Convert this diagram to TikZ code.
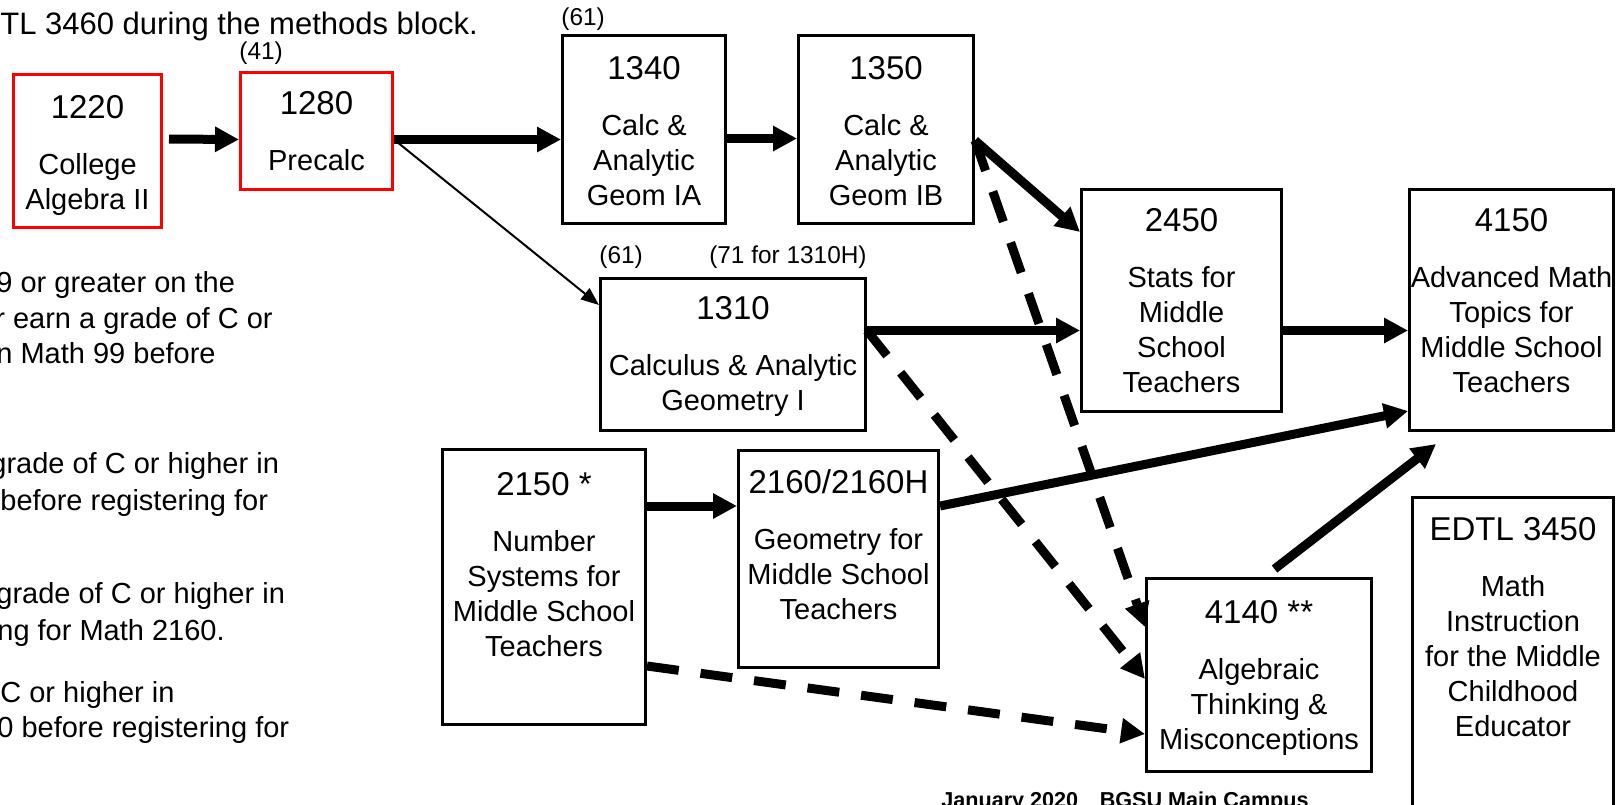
\documentclass[tikz,border=0pt]{standalone}
\usepackage{fontspec}
\setmainfont{Liberation Sans}
\usetikzlibrary{positioning, arrows.meta}

\newcommand{\cnum}[1]{{\fontsize{16.5}{17.5}\selectfont #1}}

\tikzset{
  course/.style={draw, line width=1.5pt, inner sep=0pt, anchor=north west},
  prereq/.style={course, draw=red},
  coursetext/.style={align=center, inner sep=0pt, font=\fontsize{14.5}{17.5}\selectfont},
  seats/.style={inner sep=0pt, font=\fontsize{12.2}{14}\selectfont},
  note/.style={inner sep=0pt, anchor=base west, font=\fontsize{14.5}{17.5}\selectfont},
  req/.style={line width=4.5pt, -{Triangle[length=12pt,width=12pt]}},
  coreq/.style={req, dash pattern=on 16pt off 11pt},
  thinreq/.style={line width=1pt, -{Triangle[length=9pt,width=7pt]}},
}

\begin{document}
\begin{tikzpicture}[x=0.5pt, y=-0.5pt]
	\useasboundingbox (0,0) rectangle (1620,804);

	% notes on the left, cut by the page edge
	\node[note, font=\fontsize{15.5}{18}\selectfont] (methods) at (0,34) {TL 3460 during the methods block.};
	\foreach \nx/\ny/\ntext [count=\i] in {-4/292/9 or greater on the, -5/328/r earn a grade of C or,
	    -4/363/n Math 99 before, -10/473/grade of C or higher in, 0/510/before registering for,
	    -4/603/grade of C or higher in, -3/640/ng for Math 2160., 0/702/C or higher in,
	    -3/737/0 before registering for}
	  \node[note] (note\i) at (\nx,\ny) {\ntext};

	% course boxes
	\node[prereq, minimum width=74pt, minimum height=76.5pt] (n1220) at (12,73) {};
	\node[prereq, minimum width=76pt, minimum height=58.5pt] (n1280) at (239,71) {};
	\node[course, minimum width=81.5pt, minimum height=94pt] (n1340) at (561,34) {};
	\node[course, minimum width=87.5pt, minimum height=94pt] (n1350) at (797,34) {};
	\node[course, minimum width=132.5pt, minimum height=76pt] (n1310) at (599,277) {};
	\node[course, minimum width=100pt, minimum height=111pt] (n2450) at (1080,188) {};
	\node[course, minimum width=102pt, minimum height=120.5pt] (n4150) at (1408,188) {};
	\node[course, minimum width=101.5pt, minimum height=137.5pt] (n2150) at (441,448) {};
	\node[course, minimum width=100pt, minimum height=108.5pt] (n2160) at (737,449) {};
	\node[course, minimum width=112.5pt, minimum height=96.5pt] (n4140) at (1145,577) {};
	\node[course, minimum width=100.5pt, minimum height=167pt] (nEDTL) at (1411,496) {};

	% box texts
	\node[coursetext, below=11pt of n1220.north] (t1220) {\cnum{1220}\\[10.5pt]College\\Algebra II};
	\node[coursetext, below=10pt of n1280.north] (t1280) {\cnum{1280}\\[10.5pt]Precalc};
	\node[coursetext, below=11pt of n1340.north] (t1340) {\cnum{1340}\\[10.5pt]Calc \&\\Analytic\\Geom IA};
	\node[coursetext, below=11pt of n1350.north] (t1350) {\cnum{1350}\\[10.5pt]Calc \&\\Analytic\\Geom IB};
	\node[coursetext, below=9.5pt of n1310.north] (t1310) {\cnum{1310}\\[10.5pt]Calculus \& Analytic\\Geometry I};
	\node[coursetext, below=10pt of n2450.north] (t2450) {\cnum{2450}\\[10.5pt]Stats for\\Middle\\School\\Teachers};
	\node[coursetext, below=10pt of n4150.north] (t4150) {\cnum{4150}\\[10.5pt]Advanced Math\\Topics for\\Middle School\\Teachers};
	\node[coursetext, below=12pt of n2150.north] (t2150) {\cnum{2150 *}\\[10.5pt]Number\\Systems for\\Middle School\\Teachers};
	\node[coursetext, below=10pt of n2160.north] (t2160) {\cnum{2160/2160H}\\[10.5pt]Geometry for\\Middle School\\Teachers};
	\node[coursetext, below=11.5pt of n4140.north] (t4140) {\cnum{4140 **}\\[10.5pt]Algebraic\\Thinking \&\\Misconceptions};
	\node[coursetext, below=10.5pt of nEDTL.north] (tEDTL) {\cnum{EDTL 3450}\\[10.5pt]Math\\Instruction\\for the Middle\\Childhood\\Educator};

	% seat counts
	\node[seats, above right=3pt and 0pt of n1280.north west] (s1280) {(41)};
	\node[seats, above right=1.5pt and 0pt of n1340.north west] (s1340) {(61)};
	\node[seats, above right=4pt and 0pt of n1310.north west] (s1310) {(61)};
	\node[seats, above left=4pt and 0pt of n1310.north east] (s1310H) {(71 for 1310H)};

	% prerequisites
	\draw[req] ([xshift=3pt,yshift=6pt]n1220.east) -- ([yshift=-4.25pt]n1280.west);
	\draw[req] ([yshift=-4.25pt]n1280.east) -- ([yshift=-5pt]n1340.west);
	\draw[thinreq] ([yshift=-4.25pt]n1280.east) -- ([yshift=-14pt]n1310.north west);
	\draw[req] ([yshift=-4.5pt]n1340.east) -- ([yshift=-4.5pt]n1350.west);
	\draw[req] ([yshift=-5.5pt]n1350.east) -- ([yshift=-22pt]n2450.north west);
	\draw[coreq] ([yshift=-5.5pt]n1350.east) -- ([yshift=-25pt]n4140.north west);
	\draw[req] ([yshift=12pt]n1310.east) -- ([yshift=-15pt]n2450.west);
	\draw[coreq] ([yshift=12pt]n1310.east) -- ([yshift=-2pt]n4140.west);
	\draw[req] ([yshift=-15pt]n2450.east) -- ([yshift=-10.25pt]n4150.west);
	\draw[req] ([yshift=-29pt]n2150.north east) -- ([yshift=-28.5pt]n2160.north west);
	\draw[req] ([yshift=-28.5pt]n2160.north east) -- ([yshift=10.5pt]n4150.south west);
	\draw[coreq] ([yshift=-109pt]n2150.north east) -- ([yshift=19.5pt]n4140.south west);
	\draw[req] ([xshift=7.75pt,yshift=4pt]n4140.north) -- ([xshift=14pt,yshift=-6pt]n4150.south west);

	\node[inner sep=0pt, anchor=base, font=\bfseries\fontsize{10.8}{13}\selectfont] (footer) at (1125,807) {January 2020\quad BGSU Main Campus};
\end{tikzpicture}
\end{document}
